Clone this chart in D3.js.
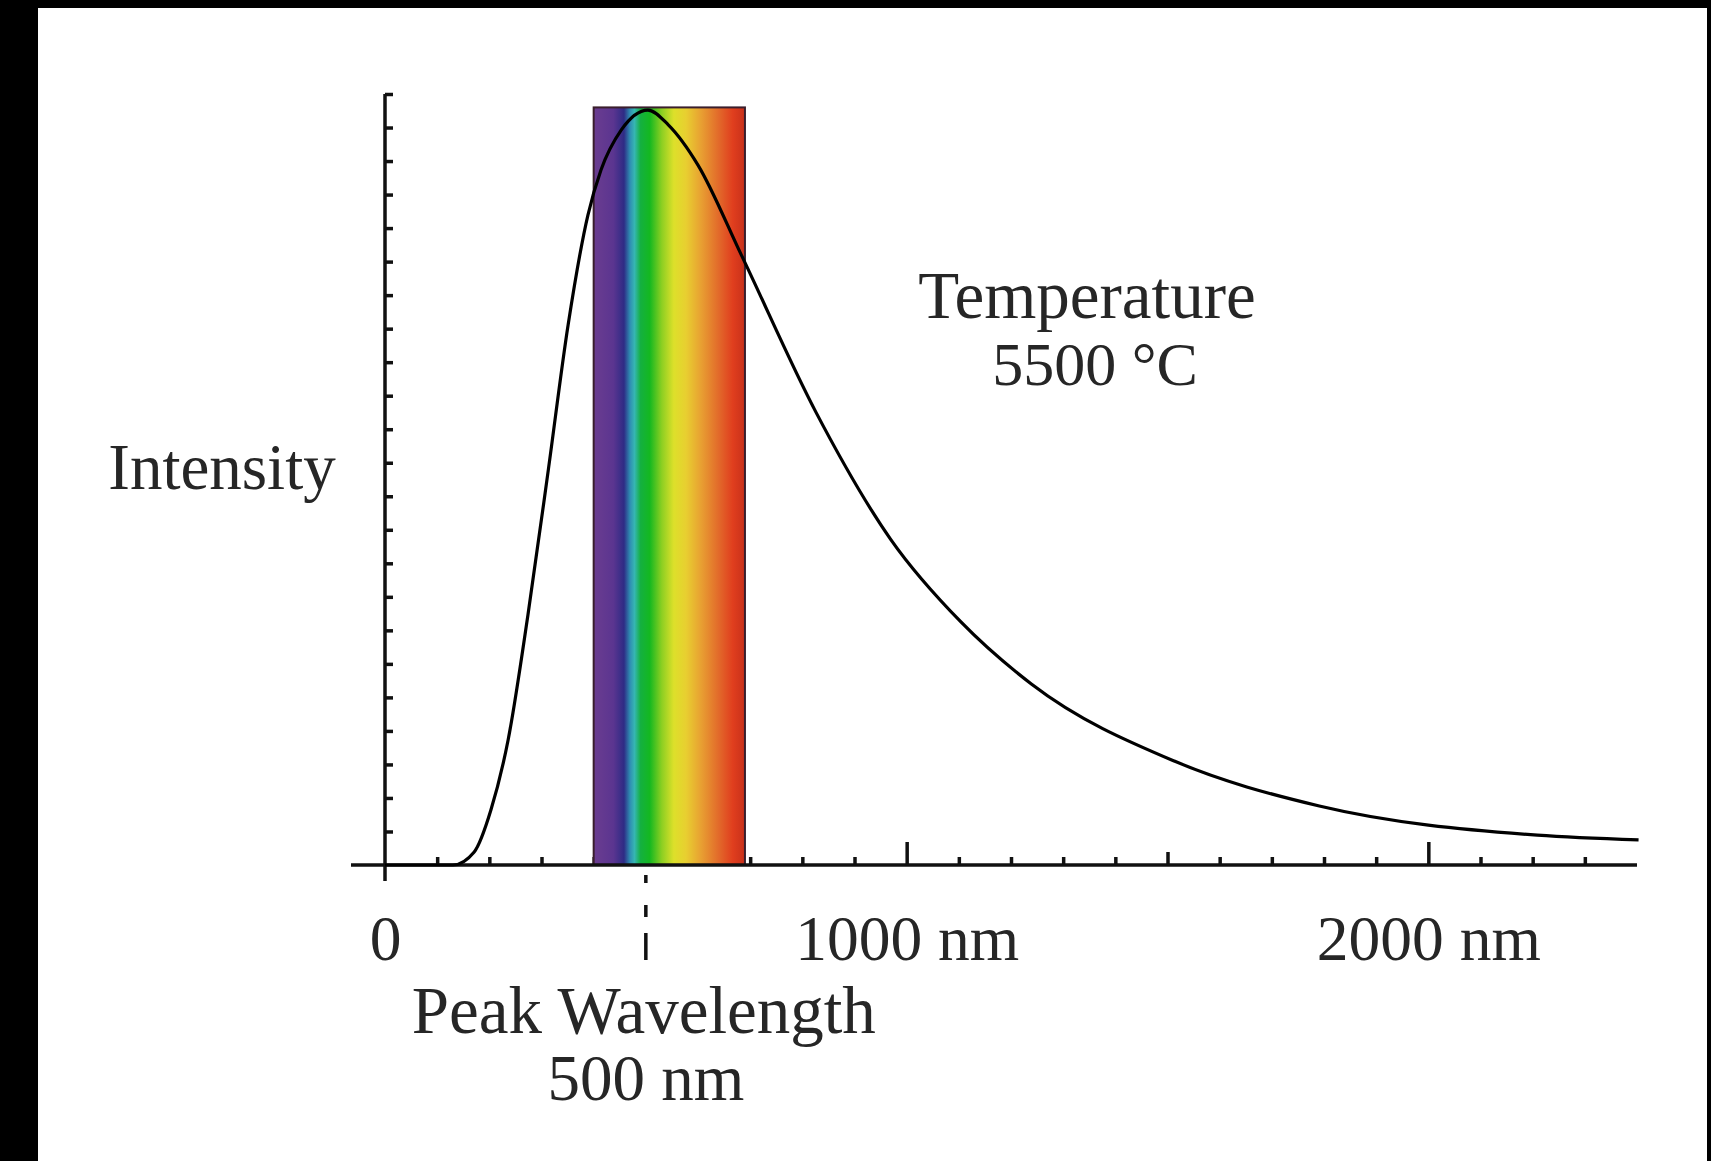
<!DOCTYPE html>
<html>
<head>
<meta charset="utf-8">
<script src="https://cdn.jsdelivr.net/npm/d3@7"></script>
<style>
  body { margin: 0; background: #000; }
  svg { display: block; }
  text { font-family: "Liberation Serif", "DejaVu Serif", serif; fill: #262626; }
</style>
</head>
<body>
<svg id="chart" width="1711" height="1161"></svg>
<script>
// blackbody curve (wavelength in nm, intensity in axis tick units)
const wavelength = [0, 130, 171, 203, 236, 274, 313, 351, 389, 414, 453, 504, 543, 600, 683, 826, 970, 1104, 1239, 1513, 1791, 2209, 2403];
const intensity  = [0, 0, 0.39, 1.64, 3.73, 7.46, 11.78, 16.11, 19.39, 20.73, 21.93, 22.52, 22.08, 20.88, 18.2, 13.51, 9.7, 7.25, 5.4, 3.1, 1.76, 0.89, 0.75];

// visible band and peak
const visibleBand = [400, 690];
const bandTop = 22.6;
const peakWavelength = 500;

const xLabelValues = [0, 1000, 2000];
const xLabels = ["0", "1000 nm", "2000 nm"];
const yMax = 23;

const spectrumStops = [
  [0, "#6b3d90"], [0.13, "#5b3590"], [0.2, "#2e2b85"], [0.24, "#2f8db2"],
  [0.27, "#36b6b2"], [0.31, "#14b040"], [0.37, "#14b820"], [0.45, "#8ccf22"],
  [0.53, "#dde02a"], [0.61, "#e8cf30"], [0.71, "#e8a032"], [0.83, "#e2682a"],
  [0.92, "#e03e1e"], [1, "#c8301a"]
];

const svg = d3.select("#chart");

// white sheet on the black frame
svg.append("rect")
  .attr("x", 38).attr("y", 8)
  .attr("width", 1669).attr("height", 1153)
  .attr("fill", "#fff");

const x = d3.scaleLinear().domain([0, 2400]).range([385, 1637]);
const y = d3.scaleLinear().domain([0, yMax]).range([865, 94]);

const grad = svg.append("defs").append("linearGradient")
  .attr("id", "spectrum").attr("x1", "0").attr("x2", "1").attr("y1", "0").attr("y2", "0");
grad.selectAll("stop").data(spectrumStops).enter().append("stop")
  .attr("offset", d => d[0]).attr("stop-color", d => d[1]);

// x ticks: minor every 100, medium at 500s, tall at 1000s
const minor = d3.range(100, 2400, 100).filter(v => v % 500 != 0);
const gx = svg.append("g").attr("transform", "translate(0," + y(0) + ")");
gx.append("g").call(d3.axisTop(x).tickValues(minor).tickSize(8).tickSizeOuter(0).tickFormat(""));
gx.append("g").call(d3.axisTop(x).tickValues([500, 1500]).tickSize(13).tickSizeOuter(0).tickFormat(""));
gx.append("g").call(d3.axisTop(x).tickValues([1000, 2000]).tickSize(23).tickSizeOuter(0).tickFormat(""));
gx.selectAll(".domain").remove();
gx.selectAll(".tick line").attr("stroke", "#111").attr("stroke-width", 3.5);

// y ticks on the right side of the axis
const gy = svg.append("g").attr("transform", "translate(" + x(0) + ",0)");
gy.call(d3.axisRight(y).tickValues(d3.range(1, yMax + 1)).tickSize(8).tickSizeOuter(0).tickFormat(""));
gy.select(".domain").remove();
gy.selectAll(".tick line").attr("stroke", "#111").attr("stroke-width", 3.5);

// visible spectrum band
svg.append("rect")
  .attr("x", x(visibleBand[0])).attr("y", y(bandTop))
  .attr("width", x(visibleBand[1]) - x(visibleBand[0]))
  .attr("height", y(0) - y(bandTop))
  .attr("fill", "url(#spectrum)")
  .attr("stroke", "#3a1e2c").attr("stroke-width", 2);

// axis lines
svg.append("line")
  .attr("x1", 351).attr("x2", x(2400))
  .attr("y1", y(0)).attr("y2", y(0))
  .attr("stroke", "#111").attr("stroke-width", 3.5);
svg.append("line")
  .attr("x1", x(0)).attr("x2", x(0))
  .attr("y1", y(yMax)).attr("y2", y(0) + 16)
  .attr("stroke", "#111").attr("stroke-width", 3.5);

// curve
const pts = wavelength.map((w, i) => [w, intensity[i]]);
svg.append("path")
  .datum(pts)
  .attr("fill", "none")
  .attr("stroke", "#000")
  .attr("stroke-width", 3.2)
  .attr("stroke-linejoin", "round")
  .attr("d", d3.line().x(d => x(d[0])).y(d => y(d[1])).curve(d3.curveMonotoneX));

// dashed peak marker under the axis
svg.append("line")
  .attr("x1", x(peakWavelength)).attr("x2", x(peakWavelength))
  .attr("y1", y(0) + 10).attr("y2", y(0) + 95)
  .attr("stroke", "#111").attr("stroke-width", 3.5)
  .attr("stroke-dasharray", "8,22,12,16,27");

// x labels
const gl = svg.append("g").attr("transform", "translate(0," + y(0) + ")");
gl.call(d3.axisBottom(x).tickValues(xLabelValues).tickSize(0)
  .tickFormat((d, i) => xLabels[i]));
gl.select(".domain").remove();
gl.selectAll(".tick text")
  .attr("y", 95).attr("dy", 0)
  .style("font-size", "63.5px")
  .style("font-family", "'Liberation Serif', serif")
  .attr("fill", "#262626");

// annotations
svg.append("text").attr("x", 222).attr("y", 489)
  .attr("text-anchor", "middle").style("font-size", "65px").text("Intensity");
svg.append("text").attr("x", 1087).attr("y", 318)
  .attr("text-anchor", "middle").style("font-size", "67px").text("Temperature");
svg.append("text").attr("x", 1095).attr("y", 385)
  .attr("text-anchor", "middle").style("font-size", "62px").text("5500 °C");
svg.append("text").attr("x", x(peakWavelength) - 2).attr("y", 1033)
  .attr("text-anchor", "middle").style("font-size", "67px").text("Peak Wavelength");
svg.append("text").attr("x", x(peakWavelength)).attr("y", 1100)
  .attr("text-anchor", "middle").style("font-size", "65px").text("500 nm");
</script>
</body>
</html>
